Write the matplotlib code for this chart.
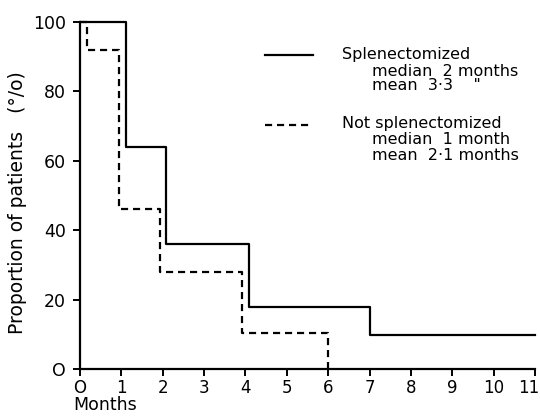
import matplotlib
matplotlib.use("Agg")
from matplotlib import pyplot as plt
from matplotlib.lines import Line2D
from matplotlib.transforms import ScaledTranslation

# step data (months, percent of patients)
splen_months = [0, 1.11, 2.09, 4.08, 7.0, 11.0]
splen_pct = [100, 64, 36, 18, 10, 10]
notsplen_months = [0, 0.17, 0.94, 1.93, 3.91, 6.0]
notsplen_pct = [100, 92, 46, 28, 10.4, 0]

month_ticks = list(range(0, 12))
pct_ticks = [0, 20, 40, 60, 80, 100]
pct_labels = ["O", "20", "40", "60", "80", "100"]
month_labels = ["O"] + [str(m) for m in range(1, 12)]


def main():
    fig = plt.figure(figsize=(5.4, 4.17), dpi=100)
    ax = fig.add_axes([0.148, 0.114, 0.843, 0.834])

    ax.step(splen_months, splen_pct, where="post", color="black", lw=1.6,
            clip_on=False)
    ax.step(notsplen_months, notsplen_pct, where="post", color="black",
            lw=1.6, ls=(0, (3.2, 2.2)), clip_on=False)

    ax.set_xlim(0, 11)
    ax.set_ylim(0, 100)
    for side in ["top", "right"]:
        ax.spines[side].set_visible(False)
    for side in ["left", "bottom"]:
        ax.spines[side].set_linewidth(1.6)
    ax.set_xticks(month_ticks, month_labels, fontsize=12)
    ax.set_yticks(pct_ticks, pct_labels, fontsize=12.5)
    ax.tick_params(length=5, width=1.4)
    ax.tick_params(axis="x", pad=2)
    ax.tick_params(axis="y", pad=5)
    # nudge the last month label so it stays inside the figure
    last = ax.get_xticklabels()[-1]
    last.set_transform(last.get_transform()
                       + ScaledTranslation(-6 / 100, 0, fig.dpi_scale_trans))

    fig.text(0.135, 0.008, "Months", fontsize=12.5, ha="left", va="bottom")
    fig.text(0.033, 0.515, "Proportion of patients   (\u00b0/o)", fontsize=13.5,
             rotation=90, ha="center", va="center")

    # legend drawn by hand to match the original layout
    fig.add_artist(Line2D([265 / 540, 313 / 540], [1 - 55 / 417, 1 - 55 / 417],
                          color="black", lw=1.6))
    fig.add_artist(Line2D([265 / 540, 313 / 540], [1 - 125 / 417, 1 - 125 / 417],
                          color="black", lw=1.6, ls=(0, (3.2, 2.2))))
    fs = 11.5
    fig.text(342 / 540, 1 - 55 / 417, "Splenectomized", fontsize=fs, va="center")
    fig.text(372 / 540, 1 - 71 / 417, "median  2 months", fontsize=fs, va="center")
    fig.text(372 / 540, 1 - 86 / 417, "mean  3\u00b73    \"", fontsize=fs, va="center")
    fig.text(342 / 540, 1 - 124 / 417, "Not splenectomized", fontsize=fs, va="center")
    fig.text(372 / 540, 1 - 140 / 417, "median  1 month", fontsize=fs, va="center")
    fig.text(372 / 540, 1 - 156 / 417, "mean  2\u00b71 months", fontsize=fs, va="center")

    fig.savefig("out.png", dpi=100)


if __name__ == "__main__":
    main()
